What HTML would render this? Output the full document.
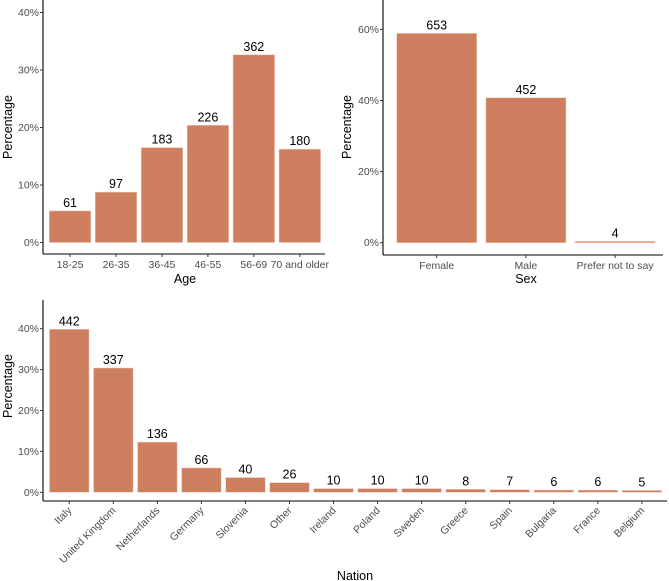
<!DOCTYPE html>
<html><head><meta charset="utf-8"><style>
body{margin:0;background:#fff;}
svg{display:block;font-family:"Liberation Sans",sans-serif;}
.tick{fill:#4d4d4d;font-size:10.5px;}
.lab{fill:#000;font-size:12.5px;}
.val{fill:#000;font-size:12.5px;}
</style></head><body>
<svg id="c" width="669" height="581"></svg>
<script>
const ageCats=["18-25","26-35","36-45","46-55","56-69","70 and older"];
const ageCounts=[61,97,183,226,362,180];
const sexCats=["Female","Male","Prefer not to say"];
const sexCounts=[653,452,4];
const nationCats=["Italy","United Kingdom","Netherlands","Germany","Slovenia","Other","Ireland","Poland","Sweden","Greece","Spain","Bulgaria","France","Belgium"];
const nationCounts=[442,337,136,66,40,26,10,10,10,8,7,6,6,5];
const ageTicks=[0,10,20,30,40];
const sexTicks=[0,20,40,60];
const nationTicks=[0,10,20,30,40];

const svg=document.getElementById('c');
const NS="http://www.w3.org/2000/svg";
function el(t,a,txt){const e=document.createElementNS(NS,t);for(const k in a)e.setAttribute(k,a[k]);if(txt!==undefined)e.textContent=txt;svg.appendChild(e);return e;}

function panel(p){
  const total=p.counts.reduce((a,b)=>a+b,0);
  const y=v=>p.y0-(v/p.unit)*p.unitPx;
  const x=i=>p.x0+i*p.step;
  const ax=el('line',{x1:p.axX,y1:p.axTop,x2:p.axX,y2:p.axY,stroke:'#000','stroke-width':1.1});
  
  
  const bx=el('line',{x1:p.axX,y1:p.axY,x2:p.axRight,y2:p.axY,stroke:'#000','stroke-width':1.1});
  
  
  p.ticks.forEach(t=>{
    const ty=y(t);
    el('line',{x1:p.axX-3,y1:ty,x2:p.axX,y2:ty,stroke:'#333'});
    const tl=el('text',{x:p.axX-4,y:ty+3.5,'text-anchor':'end',class:'tick'},t+'%');
    
    
  });
  p.counts.forEach((c,i)=>{
    const pct=c/total*100;
    const bt=y(pct);
    const r=el('rect',{x:x(i),y:bt,width:p.bw,height:Math.max(p.y0-bt,1),fill:'#cd7f5f',stroke:'#f0c8b8','stroke-width':0.5});
    
    
    const cx=x(i)+p.bw/2;
    const v=el('text',{x:cx,y:bt-4,'text-anchor':'middle',class:'val'},String(c));
    
    
    el('line',{x1:cx,y1:p.axY,x2:cx,y2:p.axY+3,stroke:'#333'});
    let tl;
    if(p.rot){
      tl=el('text',{x:cx+3,y:p.axY+10,'text-anchor':'end',class:'tick',transform:`rotate(-45 ${cx+3} ${p.axY+10})`},p.cats[i]);
    } else {
      tl=el('text',{x:cx,y:p.axY+14,'text-anchor':'middle',class:'tick'},p.cats[i]);
    }
    
    
  });
  const xl=el('text',{x:p.xTitleX,y:p.xTitleY,'text-anchor':'middle',class:'lab'},p.xTitle);
  
  
  const yl=el('text',{x:0,y:0,'text-anchor':'middle',class:'lab',transform:`translate(${p.yTitleX},${p.yTitleY}) rotate(-90)`},'Percentage');
  
  
}

panel({name:'age',cats:ageCats,counts:ageCounts,ticks:ageTicks,axX:43,axTop:0,axY:254,axRight:325,y0:242.5,unit:10,unitPx:57.5,x0:49.3,step:45.95,bw:41.5,xTitle:'Age',xTitleX:185,xTitleY:283,yTitleX:12,yTitleY:127});
panel({name:'sex',cats:sexCats,counts:sexCounts,ticks:sexTicks,axX:383,axTop:0,axY:255,axRight:663,y0:242.7,unit:20,unitPx:71.1,x0:396.7,step:89.2,bw:80,xTitle:'Sex',xTitleX:526,xTitleY:283,yTitleX:351,yTitleY:127});
panel({name:'nation',cats:nationCats,counts:nationCounts,ticks:nationTicks,rot:true,axX:43,axTop:300,axY:501,axRight:667,y0:492.3,unit:10,unitPx:40.9,x0:49.5,step:44.05,bw:39.5,xTitle:'Nation',xTitleX:355,xTitleY:580,yTitleX:12,yTitleY:386});
</script>
</body></html>
